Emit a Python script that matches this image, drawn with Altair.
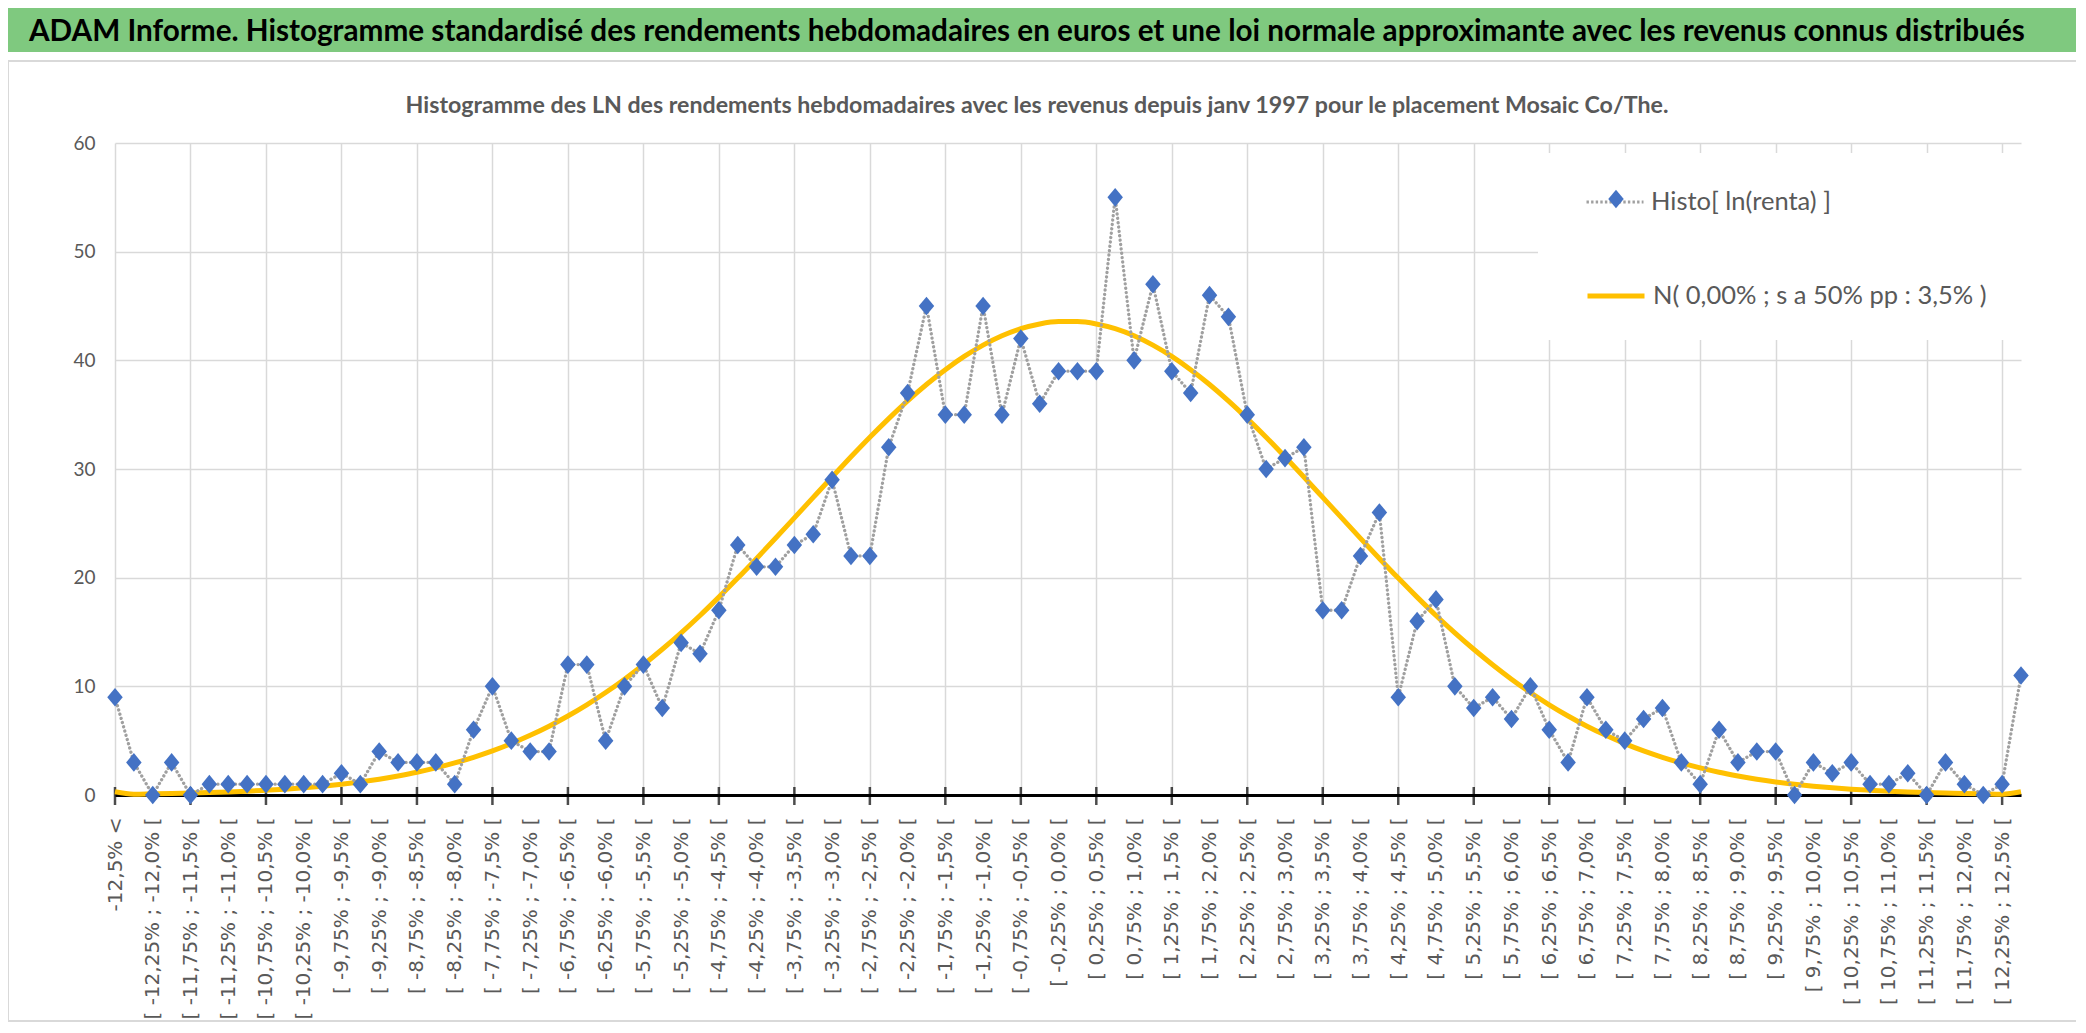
import json
import altair as alt
import pandas as pd

# ---------------- texts ----------------
BANNER = ("ADAM Informe. Histogramme standardisé des rendements hebdomadaires en euros "
          "et une loi normale approximante avec les revenus connus distribués")
SUBTITLE = ("Histogramme des LN des rendements hebdomadaires avec les revenus depuis "
            "janv 1997 pour le placement Mosaic Co/The.")
HISTO = "Histo[ ln(renta) ]"
NORM = "N( 0,00% ; s a 50% pp : 3,5% )"

# ---------------- tick labels (every other category) ----------------
TICK_LABELS = [
    "-12,5% <",
    "[ -12,25% ; -12,0% [", "[ -11,75% ; -11,5% [", "[ -11,25% ; -11,0% [",
    "[ -10,75% ; -10,5% [", "[ -10,25% ; -10,0% [", "[ -9,75% ; -9,5% [",
    "[ -9,25% ; -9,0% [", "[ -8,75% ; -8,5% [", "[ -8,25% ; -8,0% [",
    "[ -7,75% ; -7,5% [", "[ -7,25% ; -7,0% [", "[ -6,75% ; -6,5% [",
    "[ -6,25% ; -6,0% [", "[ -5,75% ; -5,5% [", "[ -5,25% ; -5,0% [",
    "[ -4,75% ; -4,5% [", "[ -4,25% ; -4,0% [", "[ -3,75% ; -3,5% [",
    "[ -3,25% ; -3,0% [", "[ -2,75% ; -2,5% [", "[ -2,25% ; -2,0% [",
    "[ -1,75% ; -1,5% [", "[ -1,25% ; -1,0% [", "[ -0,75% ; -0,5% [",
    "[ -0,25% ; 0,0% [", "[ 0,25% ; 0,5% [", "[ 0,75% ; 1,0% [",
    "[ 1,25% ; 1,5% [", "[ 1,75% ; 2,0% [", "[ 2,25% ; 2,5% [",
    "[ 2,75% ; 3,0% [", "[ 3,25% ; 3,5% [", "[ 3,75% ; 4,0% [",
    "[ 4,25% ; 4,5% [", "[ 4,75% ; 5,0% [", "[ 5,25% ; 5,5% [",
    "[ 5,75% ; 6,0% [", "[ 6,25% ; 6,5% [", "[ 6,75% ; 7,0% [",
    "[ 7,25% ; 7,5% [", "[ 7,75% ; 8,0% [", "[ 8,25% ; 8,5% [",
    "[ 8,75% ; 9,0% [", "[ 9,25% ; 9,5% [", "[ 9,75% ; 10,0% [",
    "[ 10,25% ; 10,5% [", "[ 10,75% ; 11,0% [", "[ 11,25% ; 11,5% [",
    "[ 11,75% ; 12,0% [", "[ 12,25% ; 12,5% [",
]

# ---------------- series values ----------------
HIST_COUNTS = [
    9, 3, 0, 3, 0, 1, 1, 1, 1, 1,
    1, 1, 2, 1, 4, 3, 3, 3, 1, 6,
    10, 5, 4, 4, 12, 12, 5, 10, 12, 8,
    14, 13, 17, 23, 21, 21, 23, 24, 29, 22,
    22, 32, 37, 45, 35, 35, 45, 35, 42, 36,
    39, 39, 39, 55, 40, 47, 39, 37, 46, 44,
    35, 30, 31, 32, 17, 17, 22, 26, 9, 16,
    18, 10, 8, 9, 7, 10, 6, 3, 9, 6,
    5, 7, 8, 3, 1, 6, 3, 4, 4, 0,
    3, 2, 3, 1, 1, 2, 0, 3, 1, 0,
    1, 11,
]

NORM_CURVE = [
    0.3,
    0.08, 0.11, 0.14, 0.18, 0.22, 0.28, 0.35, 0.44, 0.54, 0.66,
    0.81, 0.99, 1.2, 1.45, 1.75, 2.09, 2.49, 2.95, 3.47, 4.06,
    4.73, 5.49, 6.33, 7.27, 8.3, 9.43, 10.66, 11.99, 13.41, 14.92,
    16.52, 18.21, 19.96, 21.77, 23.62, 25.5, 27.39, 29.27, 31.12, 32.92,
    34.64, 36.27, 37.78, 39.14, 40.36, 41.4, 42.26, 42.91, 43.35, 43.57,
    43.57, 43.35, 42.91, 42.26, 41.4, 40.36, 39.14, 37.78, 36.27, 34.64,
    32.92, 31.12, 29.27, 27.39, 25.5, 23.62, 21.77, 19.96, 18.21, 16.52,
    14.92, 13.41, 11.99, 10.66, 9.43, 8.3, 7.27, 6.33, 5.49, 4.73,
    4.06, 3.47, 2.95, 2.49, 2.09, 1.75, 1.45, 1.2, 0.99, 0.81,
    0.66, 0.54, 0.44, 0.35, 0.28, 0.22, 0.18, 0.14, 0.11, 0.08,
    0.3,
]

Y_TICKS = [0, 10, 20, 30, 40, 50, 60]

N_CAT = len(HIST_COUNTS)
CATEGORY = list(range(N_CAT))
LABEL_POS = CATEGORY[::2]
TICK_POS = CATEGORY[::4]

# ---------------- style ----------------
W, H = 1906, 652
GREEN = "#7fc97f"
GRID = "#d9d9d9"
TXT = "#595959"
BLUE = "#4472c4"
GRAY = "#a0a0a0"
ORANGE = "#ffc000"
DIAMOND = "M0,-1.2L1,0L0,1.2L-1,0Z"

hist_df = pd.DataFrame({"idx": CATEGORY, "count": HIST_COUNTS,
                        "serie": [HISTO] * N_CAT, "marker": [HISTO] * N_CAT})
norm_df = pd.DataFrame({"idx": CATEGORY, "count": NORM_CURVE, "serie": [NORM] * N_CAT})
tick_df = pd.DataFrame({"idx": TICK_POS})
one = pd.DataFrame({"k": [0]})

label_expr = json.dumps(TICK_LABELS, ensure_ascii=False) + "[round(datum.value / 2)]"

X_ENC = alt.X(
    "idx:Q",
    scale=alt.Scale(domain=[0, N_CAT - 1], nice=False, zero=False),
    axis=alt.Axis(
        values=LABEL_POS, labelExpr=label_expr, labelAngle=270,
        labelFont="DejaVu Sans", labelFontSize=20, labelColor=TXT,
        labelPadding=22, labelLimit=400, labelOverlap=False, labelFlush=False,
        ticks=False, domain=True, domainColor="#000000", domainWidth=3,
        grid=True, gridWidth=1.5,
        gridColor={"condition": {"test": "datum.value % 4 === 0", "value": GRID},
                   "value": "transparent"},
        title=None,
    ),
)
Y_ENC = alt.Y(
    "count:Q",
    scale=alt.Scale(domain=[0, 60], nice=False, zero=True),
    axis=alt.Axis(
        values=Y_TICKS, labelFont="Lato", labelFontSize=19, labelColor=TXT,
        labelPadding=20, ticks=False, domain=False, grid=True,
        gridColor=GRID, gridWidth=1.5, title=None,
    ),
)


def box(x, x2, y, y2, **kw):
    return alt.Chart(one).mark_rect(**kw).encode(
        x=alt.value(x), x2=alt.value(x2), y=alt.value(y), y2=alt.value(y2))


border = box(-107, 1962, -82, 878, filled=False, stroke=GRID, strokeWidth=2)
banner = box(-107, 1963, -135, -91, color=GREEN)

banner_txt = alt.Chart(pd.DataFrame({"t": [BANNER]})).mark_text(
    font="Lato", fontWeight="bold", fontSize=29.7, color="#000000",
    align="left", baseline="alphabetic",
).encode(text="t:N", x=alt.value(-86), y=alt.value(-102))

subtitle_txt = alt.Chart(pd.DataFrame({"t": [SUBTITLE]})).mark_text(
    font="Lato", fontWeight="bold", fontSize=23.2, color=TXT,
    align="center", baseline="alphabetic",
).encode(text="t:N", x=alt.value(922), y=alt.value(-30))

ticks = alt.Chart(tick_df).mark_tick(color="#000000", thickness=2.5, size=18).encode(
    x=X_ENC, y=alt.value(H + 1))

leg_common = dict(orient="none", title=None, labelFont="Lato", labelFontSize=25.5,
                  labelColor=TXT, labelLimit=600)

curve = alt.Chart(norm_df).mark_line(strokeWidth=5, interpolate="monotone").encode(
    x=X_ENC, y=Y_ENC,
    color=alt.Color("serie:N", scale=alt.Scale(domain=[NORM], range=[ORANGE]),
                    legend=alt.Legend(legendX=1470, legendY=122, symbolType="stroke",
                                      symbolSize=3249, symbolStrokeWidth=5,
                                      labelOffset=6, zindex=1, **leg_common)),
)

dotted = alt.Chart(hist_df).mark_line(strokeWidth=3.3, strokeDash=[0.1, 4.3],
                                      strokeCap="round").encode(
    x=X_ENC, y=Y_ENC,
    color=alt.Color("serie:N", scale=alt.Scale(domain=[HISTO], range=[GRAY]),
                    legend=alt.Legend(legendX=1470, legendY=29, symbolType="stroke",
                                      symbolSize=3249, symbolStrokeWidth=2.8,
                                      symbolDash=[2.4, 2.2], labelOffset=6, zindex=1,
                                      **leg_common)),
)

points = alt.Chart(hist_df).mark_point(filled=True, color=BLUE, opacity=1, size=240).encode(
    x=X_ENC, y=Y_ENC,
    shape=alt.Shape("marker:N", scale=alt.Scale(domain=[HISTO], range=[DIAMOND]),
                    legend=alt.Legend(orient="none", title=None, legendX=1493, legendY=48,
                                      symbolSize=240, symbolFillColor=BLUE,
                                      symbolStrokeWidth=0, labelExpr="''",
                                      labelFontSize=1, zindex=2)),
)

legend_box = box(1423, 1915, 10, 197, color="#ffffff")

chart = alt.layer(
    border, banner, banner_txt, subtitle_txt, ticks, curve, dotted, points, legend_box,
).resolve_scale(color="independent").properties(
    width=W, height=H,
    autosize=alt.AutoSizeParams(type="none"),
    padding={"left": 107, "top": 135, "right": 55, "bottom": 228},
).configure_view(strokeWidth=0)

chart.save("out.html", embed_options={"renderer": "svg", "actions": False})
